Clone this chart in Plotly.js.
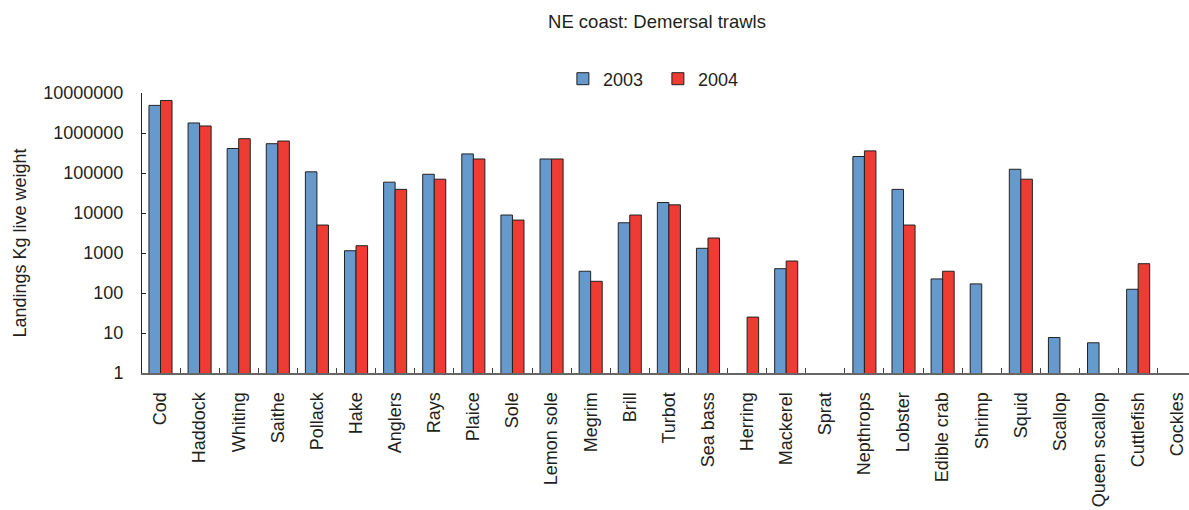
<!DOCTYPE html>
<html>
<head>
<meta charset="utf-8">
<script src="https://cdn.plot.ly/plotly-3.0.1.min.js"></script>
<style>
  html, body { margin: 0; padding: 0; background: #fff; overflow: hidden; }
  #chart { width: 1189px; height: 510px; }
</style>
</head>
<body>
<div id="chart"></div>
<script>
// Species landed by demersal trawls on the NE coast
const categories = [
  "Cod", "Haddock", "Whiting", "Saithe", "Pollack", "Hake", "Anglers", "Rays",
  "Plaice", "Sole", "Lemon sole", "Megrim", "Brill", "Turbot", "Sea bass",
  "Herring", "Mackerel", "Sprat", "Nepthrops", "Lobster", "Edible crab",
  "Shrimp", "Squid", "Scallop", "Queen scallop", "Cuttlefish", "Cockles"
];

// Landings, kg live weight (null = no landings recorded)
const landings2003 = [
  4900000, 1780000, 410000, 540000, 107000, 1140, 59000, 93000,
  300000, 8900, 224000, 350, 5700, 18300, 1310,
  null, 405, null, 258000, 39000, 225,
  169, 124000, 7.7, 5.7, 124, null
];
const landings2004 = [
  6500000, 1500000, 720000, 630000, 5000, 1520, 39000, 70000,
  224000, 6650, 224000, 196, 8900, 16000, 2370,
  25, 630, null, 357000, 5000, 350,
  null, 70000, null, null, 540, null
];

const seriesNames = ["2003", "2004"];

// Log axis tick positions and their plain-number labels
const yTickVals = [1, 10, 100, 1000, 10000, 100000, 1000000, 10000000];
const yTickText = ["1", "10", "100", "1000", "10000", "100000", "1000000", "10000000"];

const textColor = "#231f20";
const fontFamily = "Liberation Sans, Arial, Helvetica, sans-serif";

const traces = [
  {
    type: "bar", name: seriesNames[0], x: categories, y: landings2003,
    marker: { color: "#6699cc", line: { color: "#222222", width: 1 } }
  },
  {
    type: "bar", name: seriesNames[1], x: categories, y: landings2004,
    marker: { color: "#ee3b33", line: { color: "#222222", width: 1 } }
  }
];

const layout = {
  width: 1189,
  height: 510,
  margin: { l: 142, r: 0, t: 93, b: 137, pad: 0 },
  paper_bgcolor: "#ffffff",
  plot_bgcolor: "#ffffff",
  font: { family: fontFamily, size: 18, color: textColor },
  barmode: "group",
  bargap: 0.41,
  bargroupgap: 0,
  title: {
    text: "NE coast: Demersal trawls",
    font: { family: fontFamily, size: 18.5, color: textColor },
    x: 657 / 1189, xref: "container", xanchor: "center",
    y: 1 - 22 / 510, yref: "container", yanchor: "middle"
  },
  showlegend: true,
  legend: {
    orientation: "h",
    x: 0.402, xanchor: "left",
    y: 1.05, yanchor: "middle",
    entrywidth: 50, entrywidthmode: "pixels",
    bgcolor: "rgba(0,0,0,0)",
    font: { family: fontFamily, size: 18, color: textColor },
    traceorder: "normal"
  },
  xaxis: {
    type: "category",
    range: [-0.473, 26.30],
    showline: true, linecolor: "#666666", linewidth: 2,
    ticks: "inside", tickson: "boundaries", ticklen: 5, tickwidth: 1, tickcolor: "#444444",
    tickangle: -90,
    ticklabelstandoff: 10,
    tickfont: { family: fontFamily, size: 18, color: textColor },
    showgrid: false, zeroline: false, fixedrange: true
  },
  yaxis: {
    type: "log",
    range: [0, 7],
    tickvals: yTickVals, ticktext: yTickText,
    showline: true, linecolor: "#222222", linewidth: 1,
    ticks: "inside", ticklen: 4, tickwidth: 1, tickcolor: "#222222",
    ticklabelstandoff: 14,
    tickfont: { family: fontFamily, size: 18, color: textColor },
    showgrid: false, zeroline: false, fixedrange: true,
    title: {
      text: "Landings Kg live weight&nbsp;&nbsp;&nbsp;&nbsp;",
      font: { family: fontFamily, size: 18, color: textColor },
      standoff: 12
    }
  }
};

Plotly.newPlot("chart", traces, layout, { staticPlot: true, displayModeBar: false });
</script>
</body>
</html>
